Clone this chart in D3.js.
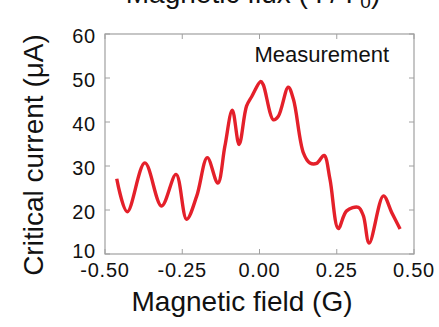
<!DOCTYPE html>
<html>
<head>
<meta charset="utf-8">
<script src="https://cdn.jsdelivr.net/npm/d3@7"></script>
<style>
  body { margin: 0; background: #fff; }
  svg { display: block; }
</style>
</head>
<body>
<div id="chart"></div>
<script>
// field (G) and critical current (uA)
const fieldG = [-0.462, -0.428, -0.371, -0.317, -0.270, -0.236, -0.203, -0.169, -0.135, -0.112,
  -0.088, -0.066, -0.042, -0.025, 0.004, 0.012, 0.045, 0.061, 0.093, 0.110,
  0.142, 0.163, 0.185, 0.209, 0.228, 0.255, 0.282, 0.320, 0.336, 0.355,
  0.401, 0.428, 0.455]
const currentUA = [27.1, 19.6, 30.7, 20.9, 28.1, 17.9, 23.2, 31.9, 26.1, 34.5,
  42.7, 34.9, 43.6, 45.8, 49.2, 48.5, 40.5, 41.3, 47.9, 45.1,
  33.0, 30.7, 30.6, 32.4, 27.0, 15.8, 19.8, 20.6, 18.7, 12.5,
  23.2, 19.4, 15.7]
const xTicks = [-0.5, -0.25, 0, 0.25, 0.5]
const yTicks = [10, 20, 30, 40, 50, 60]

const data = fieldG.map((f, i) => ({ f: f, c: currentUA[i] }))

const width = 439, height = 327
const margin = { top: 34, right: 25, bottom: 73, left: 105 }
const font = "'Liberation Sans', Arial, Helvetica, sans-serif"

const svg = d3.select("#chart").append("svg")
  .attr("width", width)
  .attr("height", height)

const x = d3.scaleLinear().domain([-0.5, 0.5]).range([margin.left, width - margin.right])
const y = d3.scaleLinear().domain([10, 60]).range([height - margin.bottom, margin.top])

const frameColor = "#a0a0a0"
const tickLen = 5

// ticks on all four sides, pointing inward
const tickG = svg.append("g").attr("stroke", frameColor).attr("stroke-width", 1)
tickG.selectAll(".xb").data(xTicks).join("line")
  .attr("x1", d => x(d)).attr("x2", d => x(d))
  .attr("y1", y(10)).attr("y2", y(10) - tickLen)
tickG.selectAll(".xt").data(xTicks).join("line")
  .attr("x1", d => x(d)).attr("x2", d => x(d))
  .attr("y1", y(60)).attr("y2", y(60) + tickLen)
tickG.selectAll(".yl").data(yTicks).join("line")
  .attr("y1", d => y(d)).attr("y2", d => y(d))
  .attr("x1", x(-0.5)).attr("x2", x(-0.5) + tickLen)
tickG.selectAll(".yr").data(yTicks).join("line")
  .attr("y1", d => y(d)).attr("y2", d => y(d))
  .attr("x1", x(0.5)).attr("x2", x(0.5) - tickLen)

svg.append("rect")
  .attr("x", x(-0.5)).attr("y", y(60))
  .attr("width", x(0.5) - x(-0.5)).attr("height", y(10) - y(60))
  .attr("fill", "none").attr("stroke", frameColor).attr("stroke-width", 1.2)

// tick labels
svg.append("g")
  .attr("font-family", font).attr("font-size", 20).attr("fill", "#111")
  .attr("letter-spacing", 0.8)
  .attr("text-anchor", "end")
  .selectAll("text").data(yTicks).join("text")
  .attr("x", x(-0.5) - 9)
  .attr("y", d => y(d) + (d === 10 ? 4 : 9))
  .text(d => d)

svg.append("g")
  .attr("font-family", font).attr("font-size", 20).attr("fill", "#111")
  .attr("letter-spacing", 0.8)
  .attr("text-anchor", "middle")
  .selectAll("text").data(xTicks).join("text")
  .attr("x", d => x(d))
  .attr("y", y(10) + 23)
  .text(d => d3.format(".2f")(d).replace("−", "-"))

// curve
const line = d3.line()
  .x(d => x(d.f))
  .y(d => y(d.c))
  .curve(d3.curveCatmullRom.alpha(0.5))

svg.append("path")
  .datum(data)
  .attr("fill", "none")
  .attr("stroke", "#e4202a")
  .attr("stroke-width", 3.4)
  .attr("stroke-linejoin", "round")
  .attr("d", line)

svg.append("text")
  .attr("x", 389).attr("y", 62)
  .attr("text-anchor", "end")
  .attr("font-family", font).attr("font-size", 22).attr("fill", "#111")
  .text("Measurement")

// axis titles
svg.append("text")
  .attr("x", 242).attr("y", 311)
  .attr("text-anchor", "middle")
  .attr("font-family", font).attr("font-size", 28).attr("fill", "#111")
  .text("Magnetic field (G)")

svg.append("text")
  .attr("transform", "translate(43,155) rotate(-90)")
  .attr("text-anchor", "middle")
  .attr("font-family", font).attr("font-size", 28).attr("fill", "#111")
  .text("Critical current (μA)")

// top axis title, mostly cut off by the image edge
svg.append("text")
  .attr("x", 253).attr("y", 3)
  .attr("text-anchor", "middle")
  .attr("font-family", font).attr("font-size", 28).attr("fill", "#111")
  .text("Magnetic flux (Φ/Φ")
  .append("tspan").attr("font-size", 19).attr("dy", 5).text("0")
  .clone(true).attr("font-size", 28).attr("dy", -5).text(")")
</script>
</body>
</html>
